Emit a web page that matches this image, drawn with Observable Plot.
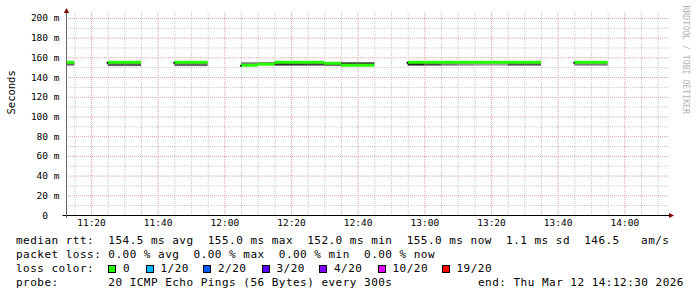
<!DOCTYPE html>
<html><head><meta charset="utf-8">
<script src="https://cdn.jsdelivr.net/npm/d3@7"></script>
<script src="https://cdn.jsdelivr.net/npm/@observablehq/plot@0.6"></script>
<style>
html,body{margin:0;padding:0;background:#fff;}
#wrap{position:relative;width:697px;height:297px;overflow:hidden;background:#fff;font-family:"DejaVu Sans Mono",monospace;}
#wrap svg{position:absolute;left:0;top:0;}
.lg{position:absolute;font-size:11px;letter-spacing:0.48px;line-height:14px;white-space:pre;color:#000;}
.box{position:absolute;width:8px;height:8px;border:1px solid #000;box-sizing:border-box;}
</style></head>
<body><div id="wrap"></div>
<script>
// ---- data ----
const stepTimes = ["11:10","11:25","11:30","11:45","11:50","12:05","12:10","12:15","12:20","12:25","12:30","12:35","12:40","12:55","13:00","13:05","13:10","13:15","13:20","13:25","13:30","13:45","13:50"];
const medians   = [155,155,155,155,155,152,153,155,155,155,154,152,152,155,155,155,155,155,155,155,155,155,155];
const smokeLo   = [151.6,151.1,151.1,151.1,151.1,152,152.5,151.6,151.6,151.6,151.5,152,152,151.6,151.6,151.6,151.6,151.6,151.6,151.6,151.6,151.6,151.6];
const smokeHi   = [155,155,155,155,155,155,155.3,155,155,155,155,155,155,155,155,155,155,155,155,155,155,155,155];
const smokeShade= ["#666","#5c5c5c","#5c5c5c","#686868","#686868","#7a7a7a","#8a8a8a","#333","#3c3c3c","#444","#3c3c3c","#333","#383838","#262626","#4a4a4a","#777","#8c8c8c","#a0a0a0","#a0a0a0","#555","#555","#7c7c7c","#7c7c7c"];
const stepMinutes = 5;
const windowStart = "11:12:30";
const windowEnd = "14:12:30";

const yTickValues = [0,20,40,60,80,100,120,140,160,180,200];
const yTickLabels = ["0\u00a0\u00a0","20 m","40 m","60 m","80 m","100 m","120 m","140 m","160 m","180 m","200 m"];
const yMinorValues = [10,30,50,70,90,110,130,150,170,190];
const xTickLabels = ["11:20","11:40","12:00","12:20","12:40","13:00","13:20","13:40","14:00"];

const lossLabels = ["0","1/20","2/20","3/20","4/20","10/20","19/20"];
const lossColors = ["#26ff00","#00b8ff","#0059ff","#5e00ff","#7e00ff","#dd00ff","#ff0000"];

const legendLine1 = "median rtt:  154.5 ms avg  155.0 ms max  152.0 ms min  155.0 ms now  1.1 ms sd  146.5   am/s";
const legendLine2 = "packet loss: 0.00 % avg  0.00 % max  0.00 % min  0.00 % now";
const legendLine3 = "loss color:";
const legendLine4 = "probe:       20 ICMP Echo Pings (56 Bytes) every 300s";
const legendEnd = "end: Thu Mar 12 14:12:30 2026";
const yLabel = "Seconds";
const watermark = "RRDTOOL / TOBI OETIKER";

// ---- helpers ----
const T = s => { const [h,m,sec] = s.split(":").map(Number); return new Date(Date.UTC(2026,2,12,h,m,sec||0)); };
const t0 = T(windowStart), t1 = T(windowEnd);
const rows = stepTimes.map((s,i) => {
  const a = T(s);
  return {a, b: new Date(+a + stepMinutes*60000), med: medians[i], lo: smokeLo[i], hi: smokeHi[i], shade: smokeShade[i]};
});
const segStarts = rows.filter((r,i) => i === 0 || +rows[i-1].b !== +r.a).filter(r => r.a >= t0);
const majorX = xTickLabels.map(T);
const minorX = d3.utcMinute.every(5).range(t0, t1).filter(d => d.getUTCMinutes() % 20 !== 0);
const halfBand = 1.52;

const gridGray = "#c8c8c8";
const gridRed = "#dca0a0";

function arrows(index, scales, values, dim) {
  const g = d3.create("svg:g");
  const xa = dim.marginLeft + 0.5, yt = dim.marginTop;
  const yb = dim.height - dim.marginBottom + 0.5, xr = dim.width - dim.marginRight + 3;
  g.append("path").attr("d", `M${xa-2.6},${yt} L${xa+2.6},${yt} L${xa},${yt-5} Z`).attr("fill", "#7f0000");
  g.append("path").attr("d", `M${xr},${yb-2.6} L${xr},${yb+2.6} L${xr+5},${yb} Z`).attr("fill", "#7f0000");
  return g.node();
}

const chart = Plot.plot({
  width: 697, height: 232,
  marginLeft: 66, marginRight: 31, marginTop: 13, marginBottom: 17,
  x: {type: "utc", domain: [t0, t1], axis: null},
  y: {domain: [0, 205], axis: null},
  color: {type: "identity"},
  style: {fontFamily: "DejaVu Sans Mono", fontSize: "9.5px", background: "#fff", overflow: "visible"},
  marks: [
    Plot.ruleY(yMinorValues, {stroke: gridGray, strokeDasharray: "1,1", insetRight: -2.5}),
    Plot.ruleX(minorX, {stroke: gridGray, strokeDasharray: "1,1"}),
    Plot.ruleY(yTickValues.filter(v => v > 0), {stroke: gridRed, strokeDasharray: "1,1", insetRight: -2.5}),
    Plot.ruleX(majorX, {stroke: gridRed, strokeDasharray: "1,1"}),
    Plot.rectY(rows, {x1: "a", x2: "b", y1: "lo", y2: "hi", fill: "shade", clip: true}),
    Plot.rectY(rows, {x1: "a", x2: "b", y1: d => d.med - halfBand, y2: d => d.med + halfBand, fill: lossColors[0], clip: true}),
    Plot.dot(segStarts, {x: "a", y: "med", r: 0.9, fill: "#000", dx: -0.8}),
    Plot.ruleY([0], {stroke: "#000", insetLeft: -3.5, insetRight: -3}),
    Plot.ruleX([t0], {stroke: "#666", insetBottom: -3}),
    arrows,
    Plot.text(yTickValues, {y: d => d, text: (d,i) => yTickLabels[i], frameAnchor: "left", dx: -7, textAnchor: "end", fill: "#000"}),
    Plot.text(majorX, {x: d => d, text: (d,i) => xTickLabels[i], frameAnchor: "bottom", dy: 10.5, fill: "#000"}),
    Plot.text([yLabel], {text: d => d, frameAnchor: "left", dx: -55, rotate: -90, fontSize: 10.5, fill: "#000"}),
    Plot.text([watermark], {text: d => d, frameAnchor: "top-right", dx: 22, dy: -8, rotate: 90, textAnchor: "start", fontSize: 8.2, fill: "#b4b4b4"})
  ]
});

const wrap = document.getElementById("wrap");
wrap.appendChild(chart);

function addText(txt, left, top, extra) {
  const d = document.createElement("div");
  d.className = "lg"; d.textContent = txt;
  d.style.left = left + "px"; d.style.top = top + "px";
  if (extra) Object.assign(d.style, extra);
  wrap.appendChild(d);
}
addText(legendLine1, 16, 234);
addText(legendLine2, 16, 248);
addText(legendLine3, 16, 262);
addText(legendLine4, 16, 276);
addText(legendEnd, 478, 276);

const boxX = [108, 145.5, 203, 261.5, 319, 377.5, 441.5];
lossLabels.forEach((lab, i) => {
  const b = document.createElement("div");
  b.className = "box";
  b.style.left = boxX[i] + "px"; b.style.top = "265px"; b.style.background = lossColors[i];
  wrap.appendChild(b);
  addText(lab, boxX[i] + 15, 262);
});
</script>
</body></html>
